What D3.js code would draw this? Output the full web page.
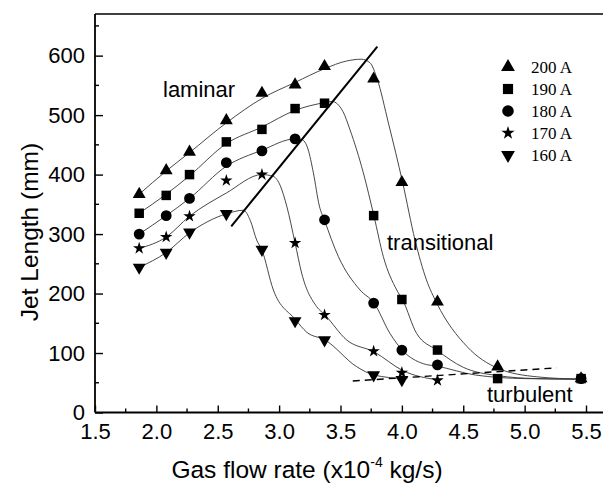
<!DOCTYPE html>
<html>
<head>
<meta charset="utf-8">
<script src="https://cdn.jsdelivr.net/npm/d3@7"></script>
<style>
  html, body { margin: 0; padding: 0; background: #fff; }
  svg { display: block; }
</style>
</head>
<body>
<svg id="chart" width="603" height="488"></svg>
<script>
// ---------- data ----------
const xValues = [1.86, 2.08, 2.27, 2.57, 2.86, 3.13, 3.37, 3.77, 4.00, 4.29, 4.78, 5.46];
const seriesNames = ["200 A", "190 A", "180 A", "170 A", "160 A"];
const s200 = [367, 407, 438, 491, 537, 551, 582, 561, 387, 186, 77, 57];
const s190 = [335, 365, 400, 455, 476, 511, 520, 331, 190, 105, 57, 57];
const s180 = [300, 331, 360, 420, 440, 460, 324, 184, 105, 80, null, 57];
const s170 = [276, 295, 330, 390, 400, 285, 164, 103, 67, 54, null, null];
const s160 = [244, 269, 303, 334, 274, 154, 122, 63, 55, null, null, null];

// fitted curves (knots read along the thin lines of the picture)
const fit200 = [[1.86,367],[2.08,406],[2.27,437],[2.57,487],[2.86,528],[3.13,555],[3.37,578],[3.55,591],[3.67,594],[3.74,588],[3.80,560],[3.89,487],[4.007,386],[4.107,290],[4.20,223],[4.284,184],[4.53,111],[4.786,74],[5.1,60],[5.465,56]];
const fit190 = [[1.86,335],[2.08,367],[2.27,398],[2.57,452],[2.86,480],[3.13,508],[3.37,521],[3.43,523],[3.52,506],[3.578,475],[3.686,403],[3.773,330],[3.849,262],[3.958,206],[4.007,189],[4.12,133],[4.284,105],[4.5,76],[4.78,62],[5.1,57],[5.465,56]];
const fit180 = [[1.86,300],[2.08,331],[2.27,360],[2.57,414],[2.86,441],[3.13,460],[3.184,459],[3.235,443],[3.279,403],[3.328,347],[3.368,324],[3.483,262],[3.659,206],[3.773,184],[3.903,133],[4.007,104],[4.175,82],[4.284,78],[4.6,63],[5.0,57],[5.465,56]];
const fit170 = [[1.86,276],[2.08,295],[2.27,330],[2.57,369],[2.86,400],[2.953,397],[3.01,381],[3.062,347],[3.13,285],[3.184,234],[3.306,178],[3.374,164],[3.55,122],[3.773,102],[4.012,70],[4.284,55]];
const fit160 = [[1.86,244],[2.08,269],[2.27,302],[2.57,334],[2.709,340],[2.765,323],[2.817,290],[2.858,274],[2.953,206],[3.13,157],[3.225,135],[3.374,122],[3.632,77],[3.773,63],[4.012,57]];

const boundaryLine = [[2.61,313],[3.80,615]];
const turbulentLine = [[3.60,53],[5.26,75]];

const xTicks = [1.5, 2.0, 2.5, 3.0, 3.5, 4.0, 4.5, 5.0, 5.5];
const yTicks = [0, 100, 200, 300, 400, 500, 600];

// ---------- layout ----------
const svg = d3.select("#chart");
const mLeft = 95, mTop = 14, mBottom = 412.5;
const x = d3.scaleLinear().domain([1.5, 5.7]).range([mLeft, mLeft + 122.75 * 4.2]);
const y = d3.scaleLinear().domain([0, 670]).range([mBottom, mTop]);

const sansFont = "'Liberation Sans', Arial, Helvetica, sans-serif";
const serifFont = "'Liberation Serif', 'Times New Roman', serif";

// frame
svg.append("line").attr("x1", mLeft).attr("x2", 603).attr("y1", mTop).attr("y2", mTop)
  .attr("stroke", "#000").attr("stroke-width", 1.6);

// x axis (ticks inward)
const xAxis = d3.axisBottom(x).tickValues(xTicks).tickSize(-7).tickSizeOuter(0)
  .tickFormat(d3.format(".1f")).tickPadding(11);
const gx = svg.append("g").attr("transform", `translate(0,${mBottom})`).call(xAxis);
gx.select(".domain").attr("stroke-width", 1.8).attr("d", `M${mLeft},0H603`);
gx.selectAll(".tick line").attr("stroke-width", 1.4);
gx.selectAll(".tick text").attr("font-family", sansFont).attr("font-size", 22).attr("fill", "#000")
  .attr("dy", "0.72em");
// minor x ticks
const xMinor = d3.range(1.75, 5.7, 0.5);
svg.append("g").selectAll("line").data(xMinor).join("line")
  .attr("x1", d => x(d)).attr("x2", d => x(d)).attr("y1", mBottom).attr("y2", mBottom - 4)
  .attr("stroke", "#000").attr("stroke-width", 1.4);

// y axis (ticks inward)
const yAxis = d3.axisLeft(y).tickValues(yTicks).tickSize(-8).tickSizeOuter(0).tickPadding(10);
const gy = svg.append("g").attr("transform", `translate(${mLeft},0)`).call(yAxis);
gy.select(".domain").attr("stroke-width", 1.8).attr("d", `M0,${mTop}V${mBottom}`);
gy.selectAll(".tick line").attr("stroke-width", 1.4);
gy.selectAll(".tick text").attr("font-family", sansFont).attr("font-size", 22).attr("fill", "#000");
const yMinor = d3.range(50, 670, 100);
svg.append("g").selectAll("line").data(yMinor).join("line")
  .attr("x1", mLeft).attr("x2", mLeft + 4).attr("y1", d => y(d)).attr("y2", d => y(d))
  .attr("stroke", "#000").attr("stroke-width", 1.4);

// axis titles
const xt = svg.append("text").attr("x", 307).attr("y", 478).attr("text-anchor", "middle")
  .attr("font-family", sansFont).attr("font-size", 24.5).attr("fill", "#000");
xt.append("tspan").text("Gas flow rate (x10");
xt.append("tspan").attr("font-size", 14).attr("dy", -11).text("-4");
xt.append("tspan").attr("dy", 11).text(" kg/s)");

svg.append("text").attr("transform", "translate(38,232) rotate(-90)").attr("text-anchor", "middle")
  .attr("font-family", sansFont).attr("font-size", 24.5).attr("fill", "#000").text("Jet Length (mm)");

// fitted curves
const lineGen = d3.line().x(d => x(d[0])).y(d => y(d[1])).curve(d3.curveMonotoneX);
const fits = [fit200, fit190, fit180, fit170, fit160];
svg.append("g").selectAll("path").data(fits).join("path")
  .attr("d", lineGen).attr("fill", "none").attr("stroke", "#333").attr("stroke-width", 0.9);

// boundary and turbulent lines
const straight = d3.line().x(d => x(d[0])).y(d => y(d[1]));
svg.append("path").attr("d", straight(boundaryLine)).attr("stroke", "#000").attr("stroke-width", 2).attr("fill", "none");
svg.append("path").attr("d", straight(turbulentLine)).attr("stroke", "#000").attr("stroke-width", 1.4)
  .attr("stroke-dasharray", "7,5").attr("fill", "none");

// markers
const symbols = [
  {type: d3.symbolTriangle, size: 72, rot: 0},
  {type: d3.symbolSquare, size: 90, rot: 0},
  {type: d3.symbolCircle, size: 92, rot: 0},
  {type: d3.symbolStar, size: 48, rot: 0},
  {type: d3.symbolTriangle, size: 72, rot: 180},
];
const allSeries = [s200, s190, s180, s170, s160];
allSeries.forEach((vals, i) => {
  const pts = xValues.map((xv, j) => [xv, vals[j]]).filter(p => p[1] != null);
  const sym = symbols[i];
  svg.append("g").selectAll("path").data(pts).join("path")
    .attr("d", d3.symbol().type(sym.type).size(sym.size))
    .attr("transform", d => `translate(${x(d[0])},${y(d[1])}) rotate(${sym.rot})`)
    .attr("fill", "#000");
});

// region labels
svg.append("text").attr("x", 163).attr("y", 97).attr("font-family", sansFont).attr("font-size", 22).text("laminar");
svg.append("text").attr("x", 387).attr("y", 250).attr("font-family", sansFont).attr("font-size", 22).text("transitional");
svg.append("text").attr("x", 487).attr("y", 402).attr("font-family", sansFont).attr("font-size", 22).text("turbulent");

// legend
const lg = svg.append("g");
seriesNames.forEach((name, i) => {
  const cy = 67 + i * 22;
  const sym = symbols[i];
  lg.append("path").attr("d", d3.symbol().type(sym.type).size(sym.size * 1.15))
    .attr("transform", `translate(508,${cy}) rotate(${sym.rot})`).attr("fill", "#000");
  lg.append("text").attr("x", 531).attr("y", cy + 6).attr("font-family", serifFont)
    .attr("font-size", 17).attr("fill", "#000").text(name);
});
</script>
</body>
</html>
